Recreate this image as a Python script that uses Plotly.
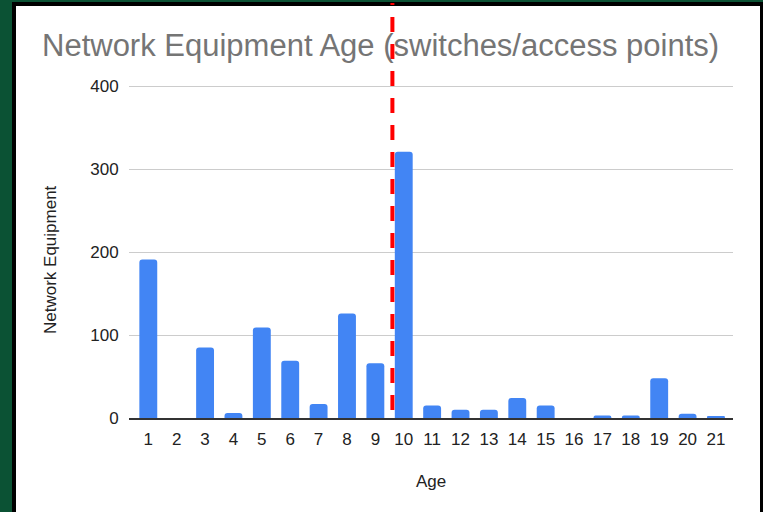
import plotly.graph_objects as go

# Equipment counts by age in years
ages = list(range(1, 22))
counts = [191, 0, 85, 6, 109, 69, 17, 126, 66, 321,
          15, 10, 10, 24, 15, 0, 3, 3, 48, 5, 2]
y_ticks = [0, 100, 200, 300, 400]
cutoff_age = 9.6  # position of the red dashed cutoff marker

W, H = 763, 512
L, R, T, B = 129, 30, 83, 94
pw, ph = W - L - R, H - T - B


def px_x(p):
    return (p - L) / pw


def px_y(p):
    return (H - B - p) / ph


fig = go.Figure(
    go.Bar(
        x=ages,
        y=counts,
        marker=dict(color="#4285F4", cornerradius=3, line=dict(width=0)),
        hoverinfo="x+y",
    )
)

font = "Arial, 'Liberation Sans', sans-serif"

fig.update_layout(
    width=W,
    height=H,
    margin=dict(l=L, r=R, t=T, b=B),
    paper_bgcolor="#0B5234",
    plot_bgcolor="rgba(0,0,0,0)",
    bargap=0.37,
    showlegend=False,
    font=dict(family=font, color="#222222", size=17),
    title=dict(
        text="Network Equipment Age (switches/access points)",
        font=dict(family=font, size=31, color="#757575"),
        x=42 / W,
        xanchor="left",
        xref="container",
        y=1 - 45 / H,
        yanchor="middle",
        yref="container",
    ),
    xaxis=dict(
        range=[0.32, 21.6],
        tickmode="array",
        tickvals=ages,
        ticktext=[str(a) for a in ages],
        showgrid=False,
        showline=True,
        linecolor="#333333",
        linewidth=1.5,
        ticks="outside",
        ticklen=5,
        tickcolor="rgba(0,0,0,0)",
        tickfont=dict(size=17, color="#222222"),
        fixedrange=True,
    ),
    yaxis=dict(
        range=[0, 404],
        tickmode="array",
        tickvals=y_ticks,
        showgrid=True,
        gridcolor="#CCCCCC",
        gridwidth=1,
        zeroline=False,
        ticks="outside",
        ticklen=6,
        tickcolor="rgba(0,0,0,0)",
        tickfont=dict(size=17, color="#222222"),
        fixedrange=True,
    ),
    annotations=[
        dict(text="Age", xref="paper", yref="paper", x=0.5, y=px_y(481),
             xanchor="center", yanchor="middle", showarrow=False,
             font=dict(size=17, color="#222222")),
        dict(text="Network Equipment", xref="paper", yref="paper",
             x=px_x(50), y=px_y(260), textangle=-90,
             xanchor="center", yanchor="middle", showarrow=False,
             font=dict(size=17, color="#222222")),
    ],
    shapes=[
        # black frame and white card behind the chart
        dict(type="rect", xref="paper", yref="paper", layer="below",
             x0=px_x(12), x1=px_x(775), y0=px_y(2), y1=px_y(530),
             fillcolor="#000000", line=dict(width=0)),
        dict(type="rect", xref="paper", yref="paper", layer="below",
             x0=px_x(16), x1=px_x(760), y0=px_y(6), y1=px_y(530),
             fillcolor="#FFFFFF", line=dict(width=0)),
        # red dashed cutoff line
        dict(type="line", xref="x", yref="paper",
             x0=cutoff_age, x1=cutoff_age, y0=px_y(410), y1=px_y(3),
             line=dict(color="#FF0000", width=4, dash="15px,12px")),
    ],
)

fig.write_html("out.html")
